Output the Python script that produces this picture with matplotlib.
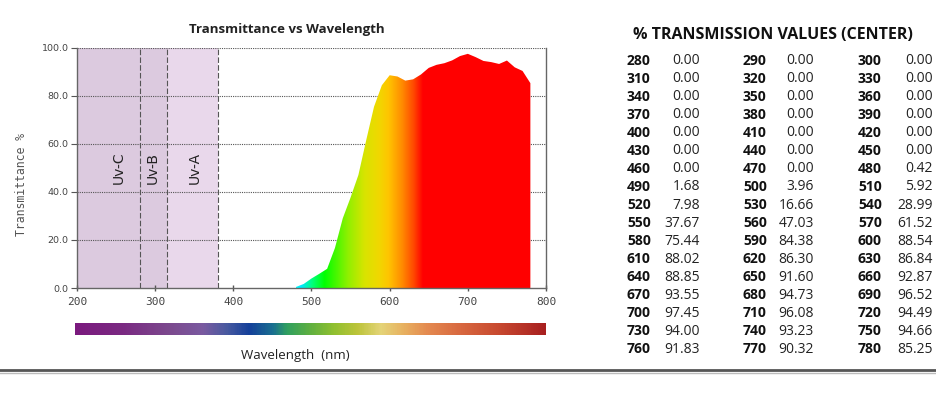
#! /usr/bin/env python3
""" Transmittance vs wavelength chart with a table of the centre values. """

import numpy as np
import matplotlib.pyplot as plt
from matplotlib.colors import LinearSegmentedColormap

# data: wavelength (nm) and % transmission
wavelengths = list(range(280, 790, 10))
transmission = [0.00, 0.00, 0.00, 0.00, 0.00, 0.00, 0.00, 0.00, 0.00, 0.00,   # 280-370
                0.00, 0.00, 0.00, 0.00, 0.00, 0.00, 0.00, 0.00, 0.00, 0.00,   # 380-470
                0.42, 1.68, 3.96, 5.92, 7.98, 16.66, 28.99, 37.67, 47.03, 61.52,
                75.44, 84.38, 88.54, 88.02, 86.30, 86.84, 88.85, 91.60, 92.87, 93.55,
                94.73, 96.52, 97.45, 96.08, 94.49, 94.00, 93.23, 94.66, 91.83, 90.32,
                85.25]

uv_names = ['Uv-C', 'Uv-B', 'Uv-A']
uv_edges = [280, 315, 380]
uv_label_x = [253, 297, 351]
x_ticks = [200, 300, 400, 500, 600, 700, 800]
y_ticks = [0, 20, 40, 60, 80, 100]

W, H = 937, 403
fig = plt.figure(figsize=(W / 100, H / 100), dpi=100)
fig.patch.set_facecolor('white')

def fx(px):
    return px / W

def fy(py):
    return 1 - py / H

ax = fig.add_axes([fx(77), fy(288), fx(546) - fx(77), fy(47.7) - fy(288)])
ax.set_xlim(200, 800)
ax.set_ylim(0, 100)

# uv shading
ax.axvspan(200, 315, color='#dccadf', lw=0, zorder=0)
ax.axvspan(315, 380, color='#e9d8eb', lw=0, zorder=0)
for edge in uv_edges:
    ax.axvline(edge, color='#555555', lw=0.8, ls=(0, (5, 2)), zorder=1)
for name, xl in zip(uv_names, uv_label_x):
    ax.text(xl, 50, name, rotation=90, ha='center', va='center', fontsize=10, color='#222222')

# dotted grid
for yv in y_ticks[1:]:
    ax.axhline(yv, color='#555555', lw=0.8, ls=(0, (1, 1)), zorder=1)

# spectrum coloured fill under the curve
spec = LinearSegmentedColormap.from_list('spec', [
    (0.000, '#00ffff'), (0.019, '#00e8ff'), (0.062, '#00ff80'), (0.112, '#00ff00'),
    (0.206, '#90f000'), (0.272, '#d8e400'), (0.328, '#f0d800'), (0.369, '#ffc400'),
    (0.422, '#ff8c00'), (0.469, '#ff4800'), (0.506, '#ff0000'), (1.000, '#ff0000')])
poly = ax.fill_between(wavelengths, 0, transmission, color='none', lw=0, zorder=2)
grad = np.linspace(0, 1, 512).reshape(1, -1)
img = ax.imshow(grad, extent=[480, 800, 0, 100], aspect='auto', cmap=spec,
                origin='lower', zorder=2, interpolation='bilinear')
img.set_clip_path(poly.get_paths()[0], transform=ax.transData)

ax.set_xticks(x_ticks)
ax.set_yticks(y_ticks)
ax.set_xticklabels([str(v) for v in x_ticks], family='DejaVu Sans Mono', fontsize=8, color='#444444')
ax.set_yticklabels(['%.1f' % v for v in y_ticks], fontsize=6.8, color='#444444')
ax.tick_params(axis='x', direction='inout', length=5, width=1, color='#555555', pad=4)
ax.tick_params(axis='y', direction='out', length=4, width=0.8, color='#555555', pad=2)
for side in ['left', 'bottom', 'right']:
    ax.spines[side].set_color('#666666')
    ax.spines[side].set_linewidth(1)
ax.spines['top'].set_visible(False)
ax.set_facecolor('white')

fig.text(fx(287), fy(30), 'Transmittance vs Wavelength', ha='center', va='center',
         family='Open Sans', fontweight='bold', fontsize=9.5, color='#222222')
fig.text(fx(21.5), fy(184), 'Transmittance %', rotation=90, ha='center', va='center',
         family='DejaVu Sans Mono', fontsize=8.3, color='#555555')

# wavelength colour bar
bar = LinearSegmentedColormap.from_list('bar', [
    (0.00, '#7b1a7e'), (0.10, '#7a2a82'), (0.20, '#7c4a8e'), (0.27, '#7a5aa0'),
    (0.32, '#4a5aa0'), (0.37, '#14409a'), (0.42, '#1a7090'), (0.45, '#30a060'),
    (0.50, '#60b040'), (0.55, '#90c030'), (0.60, '#bcc43a'), (0.65, '#e4d478'),
    (0.70, '#e8b060'), (0.75, '#e48a50'), (0.82, '#d86840'), (0.90, '#c84a30'),
    (1.00, '#a82020')])
cax = fig.add_axes([fx(75), fy(335), fx(546) - fx(75), fy(323) - fy(335)])
cax.imshow(np.linspace(0, 1, 600).reshape(1, -1), cmap=bar, aspect='auto')
cax.set_axis_off()
fig.text(fx(295), fy(355), 'Wavelength  (nm)', ha='center', va='center',
         family='Open Sans', fontsize=9.5, color='#222222')

# table of values, three columns of wavelength/value pairs
fig.text(fx(773), fy(35), '% TRANSMISSION VALUES (CENTER)', ha='center', va='center',
         family='Open Sans', fontweight='bold', fontsize=11.5, color='#111111')
col_wl = [627, 743, 858]
col_val = [700, 814, 933]
for i, (wl, tv) in enumerate(zip(wavelengths, transmission)):
    r, c = divmod(i, 3)
    yy = fy(60.7 + r * 18.04)
    fig.text(fx(col_wl[c]), yy, str(wl), ha='left', va='center', family='Open Sans',
             fontweight='bold', fontsize=10, color='#111111')
    fig.text(fx(col_val[c]), yy, '%.2f' % tv, ha='right', va='center', family='Open Sans',
             fontsize=10, color='#222222')

# rule at the bottom
fig.add_artist(plt.Line2D([0, 1], [fy(370), fy(370)], color='#555555', lw=2))
fig.add_artist(plt.Line2D([0, 1], [fy(372.5), fy(372.5)], color='#bbbbbb', lw=1))

fig.savefig('out.png', dpi=100)
